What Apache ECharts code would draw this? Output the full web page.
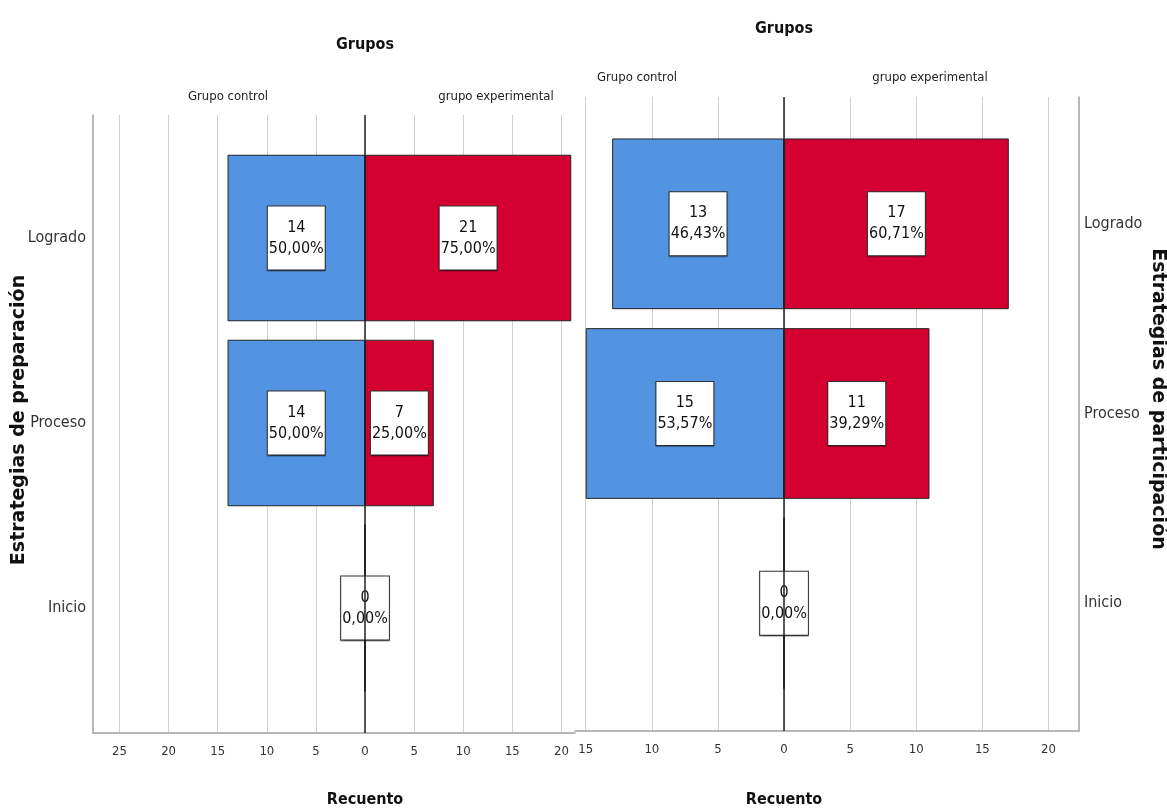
<!DOCTYPE html>
<html><head><meta charset="utf-8">
<script src="https://cdn.jsdelivr.net/npm/echarts@6/dist/echarts.min.js"></script>
<style>html,body{margin:0;padding:0;background:#fff}#c{width:1167px;height:812px}</style>
</head><body><div id="c"></div>
<script>
// ---- data ----
const categories = ['Logrado', 'Proceso', 'Inicio'];
const prepControl = [14, 14, 0];
const prepExperimental = [21, 7, 0];
const prepControlPct = [50.00, 50.00, 0.00];
const prepExperimentalPct = [75.00, 25.00, 0.00];
const partControl = [13, 15, 0];
const partExperimental = [17, 11, 0];
const partControlPct = [46.43, 53.57, 0.00];
const partExperimentalPct = [60.71, 39.29, 0.00];
const prepTicks = [-25, -20, -15, -10, -5, 0, 5, 10, 15, 20];
const partTicks = [-15, -10, -5, 0, 5, 10, 15, 20];

const NARROW = "'Liberation Sans Narrow','DejaVu Sans Condensed',sans-serif";
const BLUE = '#5294e2';
const RED = '#d50032';

function fmtPct(p) { return p.toFixed(2).replace('.', ',') + '%'; }

const labelBase = {
  show: true, position: 'inside', color: '#111', fontFamily: NARROW,
  fontSize: 16, lineHeight: 21, backgroundColor: '#fff', borderColor: '#333',
  borderWidth: 1, padding: [11, 1, 10, 1],
  shadowColor: 'rgba(0,0,0,0.35)', shadowOffsetY: 1, shadowBlur: 1
};

function barSeries(name, counts, pcts, sign, xIdx, yIdx, color, showZero) {
  return {
    type: 'bar', name: name, xAxisIndex: xIdx, yAxisIndex: yIdx, z: 4,
    barWidth: '90%', barGap: '-100%',
    itemStyle: { color: color, borderColor: '#222', borderWidth: 1 },
    data: counts.map((v, i) => ({
      value: sign * v,
      label: Object.assign({}, labelBase, {
        show: v !== 0 || showZero,
        formatter: v + '\n' + fmtPct(pcts[i])
      })
    }))
  };
}

function centerLine(xIdx, yIdx) {
  return {
    type: 'line', xAxisIndex: xIdx, yAxisIndex: yIdx, data: [], z: 3,
    markLine: {
      silent: true, symbol: 'none', label: { show: false },
      lineStyle: { color: '#222', width: 1.5, type: 'solid' },
      data: [{ xAxis: 0 }]
    }
  };
}

const tickLabel = { fontFamily: NARROW, fontSize: 13, color: '#333', margin: 12, formatter: v => String(Math.abs(v)) };
const splitLine = { show: true, lineStyle: { color: '#d0d0d0', width: 1 } };
const borderLine = { show: true, onZero: false, lineStyle: { color: '#a0a0a0', width: 1.5 } };
const catLabel = { fontFamily: NARROW, fontSize: 16, color: '#333', padding: [16, 0, 0, 0] };

const option = {
  animation: false,
  backgroundColor: '#fff',
  grid: [
    { left: 93, right: 592, top: 115, bottom: 79 },      // left frame
    { left: 93, right: 592, top: 145.5, bottom: 111.5 }, // left bars
    { left: 575, right: 88, top: 97, bottom: 81 },       // right frame
    { left: 575, right: 88, top: 129, bottom: 114 }      // right bars
  ],
  xAxis: [
    { gridIndex: 0, type: 'value', min: -27.70, max: 21.38,
      axisLine: borderLine, axisTick: { show: false, customValues: prepTicks },
      axisLabel: Object.assign({ customValues: prepTicks }, tickLabel), splitLine: splitLine },
    { gridIndex: 1, type: 'value', min: -27.70, max: 21.38, show: false, splitLine: { show: false } },
    { gridIndex: 2, type: 'value', min: -15.81, max: 22.31,
      axisLine: borderLine, axisTick: { show: false, customValues: partTicks },
      axisLabel: Object.assign({ customValues: partTicks }, tickLabel), splitLine: splitLine },
    { gridIndex: 3, type: 'value', min: -15.81, max: 22.31, show: false, splitLine: { show: false } }
  ],
  yAxis: [
    { gridIndex: 0, type: 'value', min: 0, max: 1, position: 'left',
      axisLine: borderLine, axisTick: { show: false }, axisLabel: { show: false }, splitLine: { show: false } },
    { gridIndex: 1, type: 'category', data: categories, inverse: true, position: 'left',
      axisLine: { show: false }, axisTick: { show: false }, splitLine: { show: false },
      axisLabel: Object.assign({ margin: 7 }, catLabel) },
    { gridIndex: 2, type: 'value', min: 0, max: 1, position: 'right',
      axisLine: borderLine, axisTick: { show: false }, axisLabel: { show: false }, splitLine: { show: false } },
    { gridIndex: 3, type: 'category', data: categories, inverse: true, position: 'right',
      axisLine: { show: false }, axisTick: { show: false }, splitLine: { show: false },
      axisLabel: Object.assign({ margin: 5 }, catLabel) }
  ],
  series: [
    centerLine(0, 0),
    barSeries('Grupo control', prepControl, prepControlPct, -1, 1, 1, BLUE, true),
    barSeries('grupo experimental', prepExperimental, prepExperimentalPct, 1, 1, 1, RED, false),
    centerLine(2, 2),
    barSeries('Grupo control', partControl, partControlPct, -1, 3, 3, BLUE, true),
    barSeries('grupo experimental', partExperimental, partExperimentalPct, 1, 3, 3, RED, false)
  ],
  graphic: [
    { type: 'text', x: 365, y: 45, style: { text: 'Grupos', fontFamily: NARROW, fontWeight: 'bold', fontSize: 16, fill: '#111', align: 'center', verticalAlign: 'middle' } },
    { type: 'text', x: 784, y: 29, style: { text: 'Grupos', fontFamily: NARROW, fontWeight: 'bold', fontSize: 16, fill: '#111', align: 'center', verticalAlign: 'middle' } },
    { type: 'text', x: 228, y: 97, style: { text: 'Grupo control', fontFamily: NARROW, fontSize: 13, fill: '#222', align: 'center', verticalAlign: 'middle' } },
    { type: 'text', x: 496, y: 97, style: { text: 'grupo experimental', fontFamily: NARROW, fontSize: 13, fill: '#222', align: 'center', verticalAlign: 'middle' } },
    { type: 'text', x: 637, y: 78, style: { text: 'Grupo control', fontFamily: NARROW, fontSize: 13, fill: '#222', align: 'center', verticalAlign: 'middle' } },
    { type: 'text', x: 930, y: 78, style: { text: 'grupo experimental', fontFamily: NARROW, fontSize: 13, fill: '#222', align: 'center', verticalAlign: 'middle' } },
    { type: 'text', x: 365, y: 800, style: { text: 'Recuento', fontFamily: NARROW, fontWeight: 'bold', fontSize: 16, fill: '#111', align: 'center', verticalAlign: 'middle' } },
    { type: 'text', x: 784, y: 800, style: { text: 'Recuento', fontFamily: NARROW, fontWeight: 'bold', fontSize: 16, fill: '#111', align: 'center', verticalAlign: 'middle' } },
    { type: 'text', x: 19, y: 420, rotation: Math.PI / 2, style: { text: 'Estrategias de preparación', fontFamily: "'DejaVu Sans',sans-serif", fontWeight: 'bold', fontSize: 19, fill: '#111', align: 'center', verticalAlign: 'middle' } },
    { type: 'text', x: 1158, y: 399, rotation: -Math.PI / 2, style: { text: 'Estrategias de participación', fontFamily: "'DejaVu Sans',sans-serif", fontWeight: 'bold', fontSize: 19, fill: '#111', align: 'center', verticalAlign: 'middle' } }
  ]
};

const chart = echarts.init(document.getElementById('c'), null, { renderer: 'canvas' });
chart.setOption(option);
</script>
</body></html>
